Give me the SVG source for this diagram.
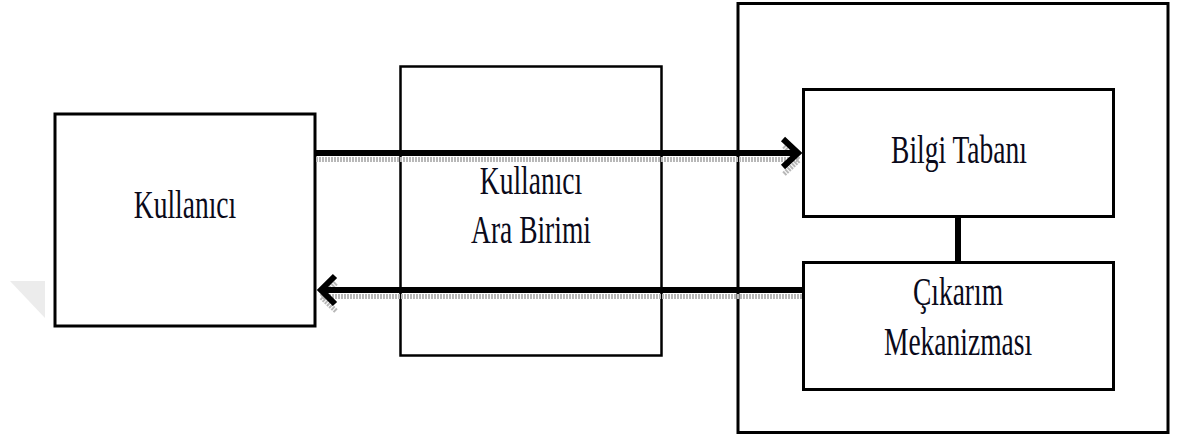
<svg xmlns="http://www.w3.org/2000/svg" width="1177" height="439" viewBox="0 0 1177 439">
  <style>
    .box { fill: #ffffff; stroke: #000000; }
    .lbl { font-family: "Liberation Serif", "Times New Roman", serif; font-size: 27.5px; fill: #0a0a1a; text-anchor: middle; }
    .wire { fill: none; stroke: #000000; stroke-width: 6; stroke-linecap: butt; stroke-linejoin: miter; }
    .shade { fill: none; stroke: #b8b8b8; stroke-width: 5; stroke-dasharray: 2 1; }
  </style>
  <rect width="1177" height="439" fill="#ffffff"/>

  <!-- faint corner mark -->
  <polygon points="10,281 45,281 45,318" fill="#ececec"/>

  <!-- expert system enclosure -->
  <g id="expert-system">
    <rect class="box" x="738" y="3.5" width="430" height="429" stroke-width="3"/>
  </g>

  <g id="kullanici">
    <rect class="box" x="55" y="114" width="260" height="212" stroke-width="3"/>
    <text class="lbl" transform="translate(185,218) scale(1,1.45)">Kullanıcı</text>
  </g>

  <g id="ara-birimi">
    <rect class="box" x="400.5" y="66.5" width="261" height="289" stroke-width="2.5"/>
    <text class="lbl" transform="translate(531,194) scale(1,1.45)">Kullanıcı</text>
    <text class="lbl" transform="translate(531,243) scale(1,1.45)">Ara Birimi</text>
  </g>

  <g id="bilgi-tabani">
    <rect class="box" x="803.5" y="89.5" width="310" height="127" stroke-width="3"/>
    <text class="lbl" transform="translate(959,163) scale(1,1.45)">Bilgi Tabanı</text>
  </g>

  <g id="cikarim-mekanizmasi">
    <rect class="box" x="803.5" y="262.5" width="310" height="127" stroke-width="3"/>
    <text class="lbl" transform="translate(958,305) scale(1,1.45)">Çıkarım</text>
    <text class="lbl" transform="translate(958,355) scale(1,1.45)">Mekanizması</text>
  </g>

  <g id="connectors">
    <!-- shadows -->
    <path class="shade" d="M316,159.5 H797"/>
    <path class="shade" d="M784,146 L799,160 L784,174"/>
    <path class="shade" d="M323,296.5 H803"/>
    <path class="shade" d="M336,283 L321,297 L336,311"/>
    <!-- user to knowledge base -->
    <path class="wire" d="M315,153 H798"/>
    <path class="wire" d="M783,139 L798,153 L783,167"/>
    <!-- inference engine back to user -->
    <path class="wire" d="M803,290 H321"/>
    <path class="wire" d="M335,276 L321,290 L335,304"/>
    <!-- knowledge base to inference engine -->
    <path class="wire" d="M958,216 V262" stroke-width="4.5"/>
  </g>
</svg>
